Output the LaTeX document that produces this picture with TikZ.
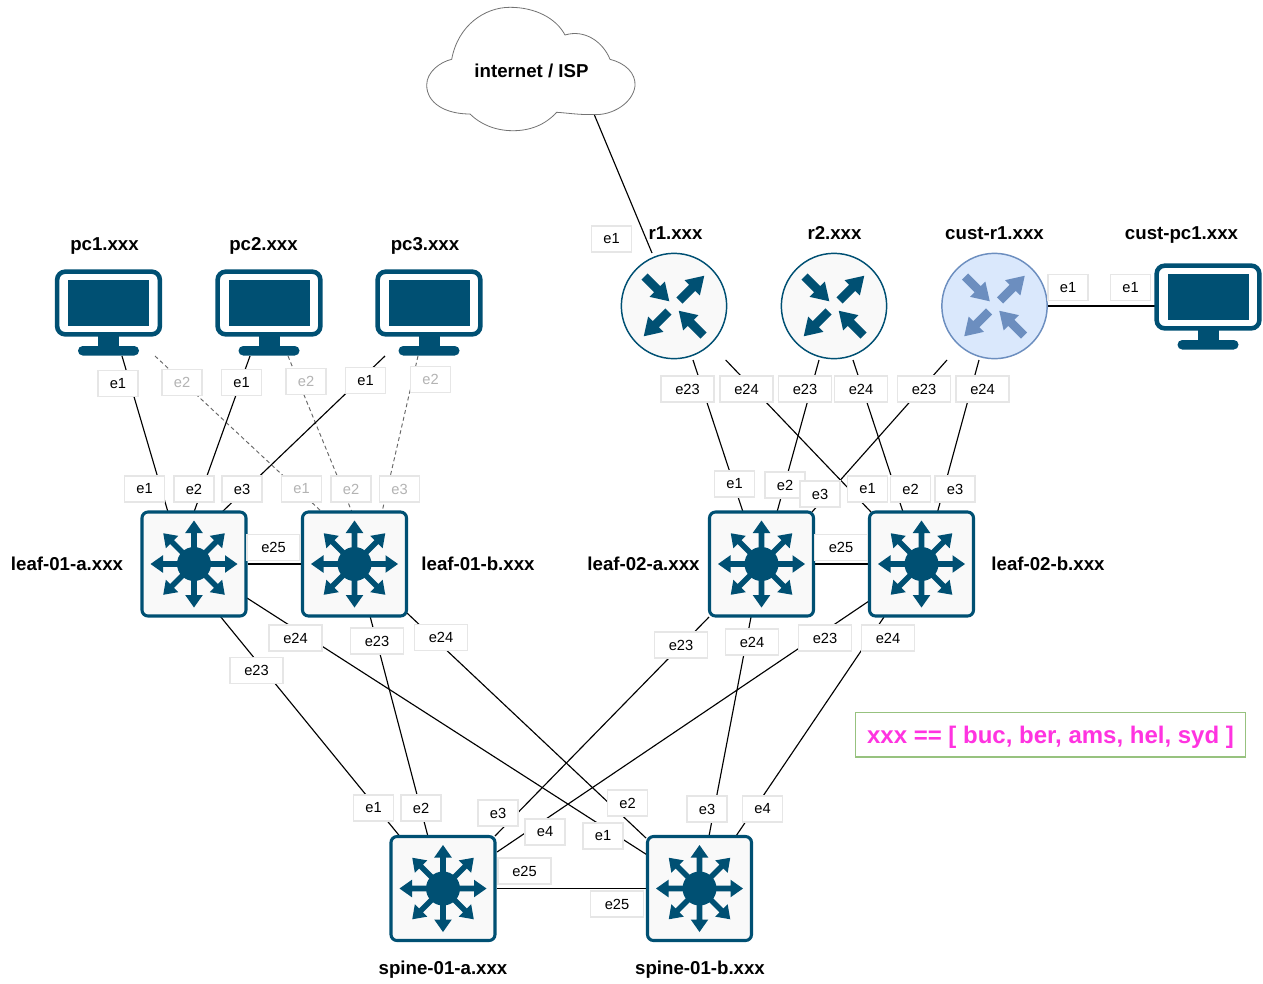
\documentclass[tikz,border=0pt]{standalone}
\usepackage{fontspec}
\setmainfont{Liberation Sans}
\usetikzlibrary{calc,backgrounds}
\definecolor{ciscoblue}{HTML}{005073}
\definecolor{custfill}{HTML}{DAE8FC}
\definecolor{custline}{HTML}{6C8EBF}
\definecolor{panel}{HTML}{F9F9F9}
\definecolor{portline}{HTML}{E6E6E6}
\definecolor{fadedtext}{HTML}{B3B3B3}
\definecolor{notegreen}{HTML}{97C27F}
\definecolor{notetext}{HTML}{FF33E0}
\tikzset{
  iconfill/.style={fill=ciscoblue},
  link/.style={draw=black,line width=0.85pt},
  trunk/.style={draw=black,line width=1pt},
  dashedlink/.style={draw=black!60,line width=0.7pt,dash pattern=on 3pt off 2.2pt},
  port/.style={draw=portline,fill=white,line width=1pt,minimum width=30pt,minimum height=19.6pt,inner sep=0pt,font=\fontsize{11}{12}\selectfont,text=black},
  portwide/.style={port,minimum width=39.8pt},
  portfaded/.style={port,text=fadedtext},
  title/.style={inner sep=0pt,text height=11.5pt,text depth=1.5pt,font=\fontsize{14}{15}\selectfont\bfseries,text=black},
  switchbox/.style={draw=ciscoblue,fill=panel,line width=2.3pt,rounded corners=4.5pt,minimum width=78pt,minimum height=78pt,inner sep=0pt},
  routerdisc/.style={circle,draw=ciscoblue,fill=panel,line width=1.1pt,minimum size=79pt,inner sep=0pt},
  monitor/.style={draw=ciscoblue,fill=white,line width=3.4pt,rounded corners=6pt,minimum width=77pt,minimum height=47pt,inner sep=0pt},
  switch icon/.pic={
    \fill[iconfill] (0,0) circle (17);
    \foreach \a in {0,45,...,315}{
      \fill[iconfill,rotate=\a] (14,-2.8)--(31,-2.8)--(31,-8.8)--(43.5,0)--(31,8.8)--(31,2.8)--(14,2.8)--cycle;
    }
  },
  router icon/.pic={
    \foreach \tx/\ty/\a in {-29.5/-29.5/-45, 5.5/-5.5/45, -5.5/5.5/225, 29.5/29.5/135}{
      \fill[iconfill,shift={(\tx,\ty)},rotate=\a] (0,-4.3)--(18,-4.3)--(18,-10.8)--(35,0)--(18,10.8)--(18,4.3)--(0,4.3)--cycle;
    }
  },
  monitor icon/.pic={
    \fill[iconfill] (-40.5,-23)rectangle(40.5,23);
    \fill[iconfill] (-10.5,32)rectangle(10.5,44);
    \fill[iconfill,rounded corners=3.5pt] (-30.5,43)rectangle(30.5,52.5);
  }
}
\begin{document}
\begin{tikzpicture}[x=0.75pt,y=-0.75pt]
\useasboundingbox (0,0) rectangle (1263,983);
% cloud
\draw[draw=black!55,fill=white,line width=0.6pt]
  (451.7,59.3) .. controls (458,25) and (485,7.3) .. (510,7.3)
  .. controls (535,7.3) and (556,18) .. (565,35)
  .. controls (585,29) and (603,42) .. (610,59.3)
  .. controls (625,63) and (636,73) .. (635,86)
  .. controls (633,103) and (612,116) .. (593,114.5)
  .. controls (580,115) and (568,113) .. (556.7,112.3)
  .. controls (545,125) and (530,130.7) .. (513,130.7)
  .. controls (495,130.7) and (480,124) .. (470,114)
  .. controls (445,114) and (426.7,103) .. (426.7,85)
  .. controls (426.7,72) and (440,62) .. (451.7,59.3) -- cycle;
\node[title] (cloud) at (531.5,71) {internet / ISP};
% devices
\node[monitor] (pc1) at (108.5,303) {};
\node[monitor] (pc2) at (269,303) {};
\node[monitor] (pc3) at (429,303) {};
\node[monitor] (pc4) at (1208,297) {};
\foreach \n in {pc1,pc2,pc3,pc4}{ \pic at (\n) {monitor icon}; }
\node[routerdisc] (r1) at (674,306) {};
\node[routerdisc] (r2) at (834,306) {};
\node[routerdisc,draw=custline,fill=custfill] (r3) at (994.5,306) {};
\pic at (r1) {router icon};
\pic at (r2) {router icon};
\pic[iconfill/.style={fill=custline}] at (r3) {router icon};
\node[switchbox] (la) at (194,564) {};
\node[switchbox] (lb) at (354.5,564) {};
\node[switchbox] (lc) at (761.5,564) {};
\node[switchbox] (ld) at (921.5,564) {};
\node[switchbox] (sa) at (443,888.5) {};
\node[switchbox] (sb) at (699.5,888.5) {};
\foreach \n in {la,lb,lc,ld,sa,sb}{ \pic at (\n) {switch icon}; }
% connectors
\begin{scope}[on background layer]
\draw[link] ($(cloud)+(62.5,43)$) -- ($(r1)+(-22,-53)$);
\draw[link] ($(pc1)+(13.5,53)$) -- ($(la)+(-26,-52)$);
\draw[dashedlink] ($(pc1)+(46.5,53)$) -- ($(lb)+(-32.5,-52)$);
\draw[link] ($(pc2)+(-19,53)$) -- ($(la)+(0,-52)$);
\draw[dashedlink] ($(pc2)+(19,53)$) -- ($(lb)+(-2.5,-52)$);
\draw[link] ($(pc3)+(-44,53)$) -- ($(la)+(28,-52)$);
\draw[dashedlink] ($(pc3)+(-11,53)$) -- ($(lb)+(27.5,-52)$);
\draw[trunk] (la) -- (lb);
\draw[trunk] (lc) -- (ld);
\draw[trunk] (sa) -- (sb);
\draw[trunk] (r3) -- (r3 -| pc4);
\draw[link] ($(la)+(26,52)$) -- ($(sa)+(-43,-52)$);
\draw[link] ($(la)+(53,34)$) -- ($(sb)+(-53,-34)$);
\draw[link] ($(lb)+(15.5,52)$) -- ($(sa)+(-15,-52)$);
\draw[link] ($(lb)+(52.5,49)$) -- ($(sb)+(-53.5,-50.5)$);
\draw[link] ($(lc)+(-52.5,53)$) -- ($(sa)+(52,-52.5)$);
\draw[link] ($(lc)+(-10.5,53)$) -- ($(sb)+(9.5,-52.5)$);
\draw[link] ($(ld)+(-52.5,37)$) -- ($(sa)+(54,-36.5)$);
\draw[link] ($(ld)+(-37.5,53)$) -- ($(sb)+(36.5,-52.5)$);
\draw[link] ($(r1)+(19,54)$) -- ($(lc)+(-18.5,-52)$);
\draw[link] ($(r1)+(51.7,54)$) -- ($(ld)+(-50.5,-52)$);
\draw[link] ($(r2)+(-15,54)$) -- ($(lc)+(15.5,-52)$);
\draw[link] ($(r2)+(19,54)$) -- ($(ld)+(-18.5,-52)$);
\draw[link] ($(r3)+(-47.5,54)$) -- ($(lc)+(50.5,-52)$);
\draw[link] ($(r3)+(-15.5,54)$) -- ($(ld)+(16,-52)$);
\end{scope}
% port labels
\node[port] (p1) at (611.5,239) {e1};
\node[port] (p2) at (118,383.5) {e1};
\node[portfaded] (p3) at (182,382.5) {e2};
\node[port] (p4) at (241.5,382.5) {e1};
\node[portfaded] (p5) at (306,381.5) {e2};
\node[port] (p6) at (365.5,380.5) {e1};
\node[portfaded] (p7) at (430.5,379.5) {e2};
\node[port] (p8) at (144.5,489) {e1};
\node[port] (p9) at (194,489) {e2};
\node[port] (p10) at (242,489) {e3};
\node[portfaded] (p11) at (301.5,489) {e1};
\node[portfaded] (p12) at (351,489) {e2};
\node[portfaded] (p13) at (399.5,489) {e3};
\node[portwide] (p14) at (273.5,547.5) {e25};
\node[portwide] (p15) at (295.5,638) {e24};
\node[portwide] (p16) at (377,641) {e23};
\node[portwide] (p17) at (441,637.5) {e24};
\node[portwide] (p18) at (256.5,670.5) {e23};
\node[port] (p19) at (373.5,808) {e1};
\node[port] (p20) at (421,808) {e2};
\node[port] (p21) at (498,813) {e3};
\node[port] (p22) at (545,832) {e4};
\node[port] (p23) at (627.5,803) {e2};
\node[port] (p24) at (603,836) {e1};
\node[port] (p25) at (707,809) {e3};
\node[port] (p26) at (762.5,809) {e4};
\node[portwide] (p27) at (524.5,871) {e25};
\node[portwide] (p28) at (617,904) {e25};
\node[portwide] (p29) at (687.5,389) {e23};
\node[portwide] (p30) at (746.5,389) {e24};
\node[portwide] (p31) at (805,389) {e23};
\node[portwide] (p32) at (861,389) {e24};
\node[portwide] (p33) at (924,389) {e23};
\node[portwide] (p34) at (982.5,389) {e24};
\node[port] (p35) at (734.5,484) {e1};
\node[port] (p36) at (785,485) {e2};
\node[port] (p37) at (820,494) {e3};
\node[port] (p38) at (867.5,489) {e1};
\node[port] (p39) at (910.5,489) {e2};
\node[port] (p40) at (955,489) {e3};
\node[portwide] (p41) at (841,547.5) {e25};
\node[portwide] (p42) at (681,645) {e23};
\node[portwide] (p43) at (752,642) {e24};
\node[portwide] (p44) at (825,638) {e23};
\node[portwide] (p45) at (888,638) {e24};
\node[port] (p46) at (1068,287.5) {e1};
\node[port] (p47) at (1130.5,287.5) {e1};
% device names
\node[title] (t1) at (104.5,244) {pc1.xxx};
\node[title] (t2) at (263.5,244) {pc2.xxx};
\node[title] (t3) at (425,244) {pc3.xxx};
\node[title] (t4) at (675.5,233) {r1.xxx};
\node[title] (t5) at (834.5,233) {r2.xxx};
\node[title] (t6) at (994.5,233) {cust-r1.xxx};
\node[title] (t7) at (1181.5,233) {cust-pc1.xxx};
\node[title] (t8) at (67,564) {leaf-01-a.xxx};
\node[title] (t9) at (478,564) {leaf-01-b.xxx};
\node[title] (t10) at (643.5,564) {leaf-02-a.xxx};
\node[title] (t11) at (1048,564) {leaf-02-b.xxx};
\node[title] (t12) at (443,968) {spine-01-a.xxx};
\node[title] (t13) at (700,968) {spine-01-b.xxx};
% note
\node[draw=notegreen,line width=0.9pt,minimum width=293pt,minimum height=33.6pt,inner sep=0pt,text height=15pt,text depth=1.3pt,text=notetext,font=\fontsize{18}{20}\selectfont\bfseries] (note) at (1050.5,734.5) {xxx == [ buc, ber, ams, hel, syd ]};
\end{tikzpicture}
\end{document}
